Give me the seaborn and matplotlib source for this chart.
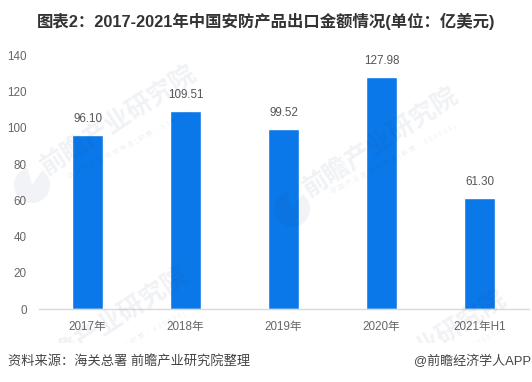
import matplotlib
matplotlib.use("Agg")
import matplotlib.pyplot as plt
import seaborn as sns
import pandas as pd
from matplotlib.patches import Wedge
from matplotlib.transforms import Bbox, TransformedBbox

categories = ["2017年", "2018年", "2019年", "2020年", "2021年H1"]
values = [96.10, 109.51, 99.52, 127.98, 61.30]
labels = ["96.10", "109.51", "99.52", "127.98", "61.30"]
yticks = [0, 20, 40, 60, 80, 100, 120, 140]
title = "图表2：2017-2021年中国安防产品出口金额情况(单位：亿美元)"
source = "资料来源：海关总署 前瞻产业研究院整理"
brand = "@前瞻经济学人APP"
wm_main = "前瞻产业研究院"
wm_sub = " ".join("中国产业咨询领导者(股票：839599)")
wm_main_pos = [(119, 120), (381, 142), (111, 322), (429, 345)]
wm_sub_pos = [(131, 144), (394, 159), (123, 346), (442, 362)]
wm_logo_pos = [(32, 185), (292, 209)]

sns.set_theme(style="white")
plt.rcParams['font.family'] = ['Liberation Sans', 'Noto Sans CJK SC']

W, H = 532, 382
fig = plt.figure(figsize=(W/100, H/100), dpi=100, facecolor="white")
ax = fig.add_axes([38.5/W, 1-309.2/H, 490/W, (309.2-55.3)/H])
df = pd.DataFrame({"cat": categories, "val": values})
sns.barplot(data=df, x="cat", y="val", color="#0a78e8", saturation=1, width=0.316, ax=ax)
ax.set_ylim(0, 140)
ax.set_xlim(-0.5, 4.5)
ax.set_yticks(yticks)
ax.set_xlabel("")
ax.set_ylabel("")
ax.tick_params(axis="x", length=0, pad=8.5, labelsize=8.4, labelcolor="#666666")
ax.tick_params(axis="y", length=0, pad=8.5, labelsize=8.4, labelcolor="#666666")
for s in ["top", "right", "left"]:
    ax.spines[s].set_visible(False)
ax.spines["bottom"].set_color("#d9d9d9")
ax.spines["bottom"].set_linewidth(1)
for i, (v, t) in enumerate(zip(values, labels)):
    ax.annotate(t, (i, v), xytext=(0, 7), textcoords="offset points", ha="center", va="bottom",
                fontsize=8.4, color="#555555", zorder=5)

clip = TransformedBbox(Bbox([[0, 1-343/H], [1, 1]]), fig.transFigure)
wm_color = "#1f3a6e"
for (x, y) in wm_main_pos:
    t = fig.text(x/W, 1-y/H, wm_main, rotation=33, fontsize=18.5, color=wm_color, alpha=0.065,
                 ha="center", va="center", fontweight="bold", zorder=2, rotation_mode="anchor")
    t.set_clip_box(clip); t.set_clip_on(True)
for (x, y) in wm_sub_pos:
    t = fig.text(x/W, 1-y/H, wm_sub, rotation=28, fontsize=4.8, color=wm_color, alpha=0.07,
                 ha="center", va="center", zorder=2, rotation_mode="anchor")
    t.set_clip_box(clip); t.set_clip_on(True)
for (x, y) in wm_logo_pos:
    fig.add_artist(Wedge((x, H-y), 18, 105, 55, transform=None, facecolor=wm_color, alpha=0.06,
                         edgecolor="none", zorder=2))

fig.text(266/W, 1-21/H, title, ha="center", va="center", fontsize=11.8, fontweight="bold",
         color="#333333", zorder=4)
fig.text(7.5/W, 1-361/H, source, ha="left", va="center", fontsize=9.5, color="#444444", zorder=4)
fig.text(531/W, 1-361/H, brand, ha="right", va="center", fontsize=9.4, color="#444444", zorder=4)
fig.savefig("out.png", dpi=100)
